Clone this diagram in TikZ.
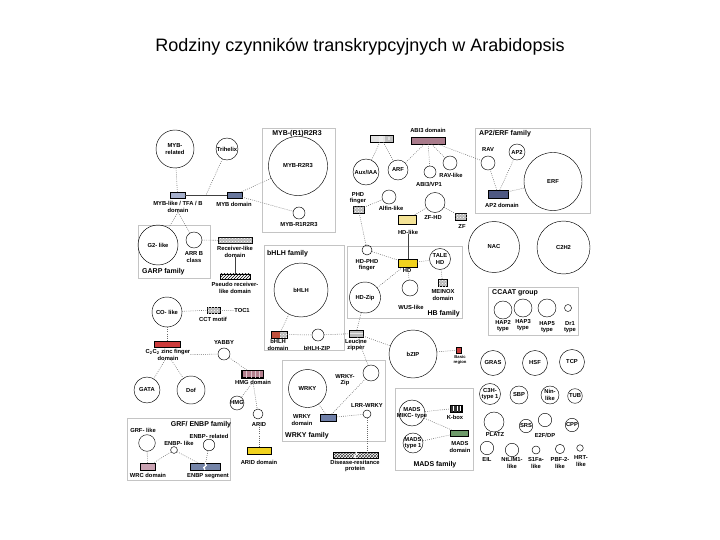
\documentclass[tikz,border=0pt]{standalone}
\usepackage{fontspec}
\setmainfont{Liberation Sans}
\usetikzlibrary{patterns}
\definecolor{boxc}{HTML}{C4C4C4}
\definecolor{dotc}{HTML}{6A6A6A}
\definecolor{mybl}{HTML}{A6B0CC}
\definecolor{mybd}{HTML}{67769C}
\definecolor{mauve}{HTML}{A97B8B}
\definecolor{ap2c}{HTML}{4F5983}
\definecolor{hdl}{HTML}{F4E396}
\definecolor{hdc}{HTML}{F0D21E}
\definecolor{redc}{HTML}{CC3B3B}
\definecolor{bhr}{HTML}{C0503C}
\definecolor{hmgc}{HTML}{B5808F}
\definecolor{wrkyc}{HTML}{6F7FA8}
\definecolor{madsc}{HTML}{6E9A6A}
\definecolor{wrcc}{HTML}{C9A2B2}
\definecolor{enbpc}{HTML}{7484A8}
\newcommand\lbl{\fontsize{5.8}{6.2}\selectfont\bfseries}
\newcommand\famf{\fontsize{7}{8}\selectfont\bfseries}
\newcommand\tinyl{\fontsize{4.2}{4.6}\selectfont\bfseries}
\begin{document}
\begin{tikzpicture}[x=1pt,y=-1pt,
 fam/.style={draw=boxc, line width=0.7pt},
 cir/.style={circle, draw, line width=0.45pt, inner sep=0pt, minimum size={2*#1pt}},
 dom/.style={draw, line width=0.35pt, inner sep=0pt},
 lab/.style={font=\lbl, align=center, inner sep=0pt},
 ttl/.style={font=\famf, inner sep=0pt},
 dl/.style={draw=dotc, line width=0.55pt, dash pattern=on 0.8pt off 1.3pt},
 sl/.style={draw=black!75, line width=0.55pt},
 chk/.style={fill=gray!55, postaction={pattern=crosshatch dots, pattern color=white}},
 bord/.style={draw, line width=0.35pt},
]
\useasboundingbox (0,0) rectangle (720,540);
\node[font=\fontsize{18}{20}\selectfont, inner sep=0pt] (title) at (360,47) {Rodziny czynników transkrypcyjnych w Arabidopsis};

% family boxes
\draw[fam] (262,128) rectangle (335,232);
\draw[fam] (475,128) rectangle (590,213);
\draw[fam] (138,225) rectangle (210,278);
\draw[fam] (264,245) rectangle (344,350);
\draw[fam] (347,246) rectangle (462,318);
\draw[fam] (488,287) rectangle (578,335);
\draw[fam] (282,360) rectangle (385,441);
\draw[fam] (395,388) rectangle (473,470);
\draw[fam] (127,418) rectangle (230,480);

% circles
\node[cir=19] (mybrel) at (175,149) {};
\node[cir=11] (trih) at (227,149) {};
\node[cir=29.5] (r2r3) at (298,166) {};
\node[cir=6] (r1r2r3) at (299,213) {};
\node[cir=13] (auxiaa) at (366,172) {};
\node[cir=10] (arf) at (398,170) {};
\node[cir=6] (abivp) at (430,172) {};
\node[cir=7] (ravlike) at (450,163) {};
\node[cir=7] (rav) at (488,163) {};
\node[cir=8] (ap2) at (517,152) {};
\node[cir=29] (erf) at (553,181.5) {};
\node[cir=7] (alfin) at (389,197) {};
\node[cir=10] (zfhd) at (435,202.5) {};
\node[cir=25.5] (nac) at (494,247) {};
\node[cir=26.5] (c2h2) at (563.5,247.5) {};
\node[cir=20] (g2) at (158,245) {};
\node[cir=8] (arrb) at (194,240) {};
\node[cir=5] (hdphd) at (367,250) {};
\node[cir=10.5] (talehd) at (440,259) {};
\node[cir=15.5] (hdzip) at (365,297.5) {};
\node[cir=8] (wus) at (410,288) {};
\node[cir=27] (bhlh) at (301,290) {};
\node[cir=6] (bhlhzip) at (318,335) {};
\node[cir=24] (bzip) at (413,354) {};
\node[cir=9] (hap2) at (503,310) {};
\node[cir=9] (hap3) at (523,308) {};
\node[cir=9] (hap5) at (547,308) {};
\node[cir=3.5] (dr1) at (568,308) {};
\node[cir=12.5] (gras) at (493,363) {};
\node[cir=12.5] (hsf) at (535,363) {};
\node[cir=12.5] (tcp) at (572,362) {};
\node[cir=15] (co) at (167,312) {};
\node[cir=6] (yabby) at (224,354) {};
\node[cir=13] (gata) at (147,390) {};
\node[cir=14] (dof) at (191,390) {};
\node[cir=7] (hmg) at (237,403) {};
\node[cir=5] (arid) at (258,414) {};
\node[cir=19] (wrky) at (307.5,388.5) {};
\node[cir=8] (wrkyzip) at (371,373) {};
\node[cir=4] (lrr) at (367,414) {};
\node[cir=13] (mikc) at (412,413) {};
\node[cir=10] (mt1) at (413,443) {};
\node[cir=10.5] (c3h) at (490,394) {};
\node[cir=9] (sbp) at (519,395) {};
\node[cir=9] (nin) at (550,395) {};
\node[cir=7.3] (tub) at (575,396) {};
\node[cir=10] (platz) at (494,422) {};
\node[cir=6.7] (srs) at (526,426) {};
\node[cir=6.7] (e2f) at (545,420) {};
\node[cir=6.7] (cpp) at (572,425) {};
\node[cir=6.7] (eil) at (487,448) {};
\node[cir=6.7] (nlim) at (512,450) {};
\node[cir=4] (s1fa) at (536,450) {};
\node[cir=4.7] (pbf) at (560,449) {};
\node[cir=3.3] (hrt) at (580,448) {};
\node[cir=8.3] (grf) at (147,443) {};
\node[cir=3.4] (enbpl) at (174,450) {};
\node[cir=5.8] (enbpr) at (209,445) {};

% texts inside circles
\node[lab] at (mybrel) {MYB-\\related};
\node[lab] at (trih) {Trihelix};
\node[lab] at (r2r3) {MYB-R2R3};
\node[lab] at (auxiaa) {Aux/IAA};
\node[lab] at (arf) {ARF};
\node[lab] at (ap2) {AP2};
\node[lab] at (erf) {ERF};
\node[lab] at (nac) {NAC};
\node[lab] at (c2h2) {C2H2};
\node[lab] at (g2) {G2- like};
\node[lab] at (talehd) {TALE\\HD};
\node[lab] at (hdzip) {HD-Zip};
\node[lab] at (bhlh) {bHLH};
\node[lab] at (bzip) {bZIP};
\node[lab] at (gras) {GRAS};
\node[lab] at (hsf) {HSF};
\node[lab] at (tcp) {TCP};
\node[lab] at (co) {CO- like};
\node[lab] at (gata) {GATA};
\node[lab] at (dof) {Dof};
\node[lab] at (hmg) {HMG};
\node[lab] at (wrky) {WRKY};
\node[lab] at (mikc) {MADS\\MIKC- type};
\node[lab] at (mt1) {MADS\\type 1};
\node[lab] at (c3h) {C3H-\\type 1};
\node[lab] at (sbp) {SBP};
\node[lab] at (nin) {Nin-\\like};
\node[lab] at (tub) {TUB};
\node[lab] at (srs) {SRS};
\node[lab] at (cpp) {CPP};

% domains
\node[dom, fill=mybl, minimum width=15pt, minimum height=6pt] (myblD) at (177.5,195) {};
\node[dom, fill=mybd, minimum width=15pt, minimum height=6pt] (mybD) at (234.5,195) {};
\node[dom, fill=gray!22, minimum width=23pt, minimum height=7pt] (auxD) at (381.5,138.5) {};
\fill[white!85!gray] ([xshift=9pt]auxD.north west) rectangle ([xshift=13pt]auxD.south west);
\fill[gray!50] ([xshift=-8pt]auxD.north east) rectangle (auxD.south east);
\fill[gray!25] ([xshift=-5pt,yshift=-2pt]auxD.north east) rectangle ([xshift=-3pt,yshift=2pt]auxD.south east);
\draw[bord] (auxD.north west) rectangle (auxD.south east);
\node[dom, fill=mauve, minimum width=34pt, minimum height=7pt] (abiD) at (428,140.5) {};
\node[dom, fill=ap2c, minimum width=20.5pt, minimum height=7.5pt] (ap2D) at (498,194) {};
\node[dom, chk, minimum width=11pt, minimum height=7pt] (phdD) at (358.5,209.5) {};
\node[dom, chk, minimum width=11pt, minimum height=7pt] (zfD) at (461,216.5) {};
\node[dom, fill=hdl, minimum width=18pt, minimum height=9pt] (hdlikeD) at (407,219.5) {};
\node[dom, fill=hdc, minimum width=19pt, minimum height=8pt] (hdD) at (407.5,263.3) {};
\node[dom, chk, minimum width=8.5pt, minimum height=7pt] (meinoxD) at (442.5,283) {};
\node[dom, chk, minimum width=34pt, minimum height=6pt] (recD) at (235,240.5) {};
\node[dom, pattern=north east lines, minimum width=30pt, minimum height=5.5pt] (pseudoD) at (235,276.5) {};
\node[dom, chk, minimum width=13pt, minimum height=6.5pt] (cctD) at (213.3,310) {};
\node[dom, fill=redc, minimum width=26pt, minimum height=6pt] (c2c2D) at (167,344) {};
\node[dom, minimum width=16pt, minimum height=7pt] (bhlhD) at (279,334.5) {};
\fill[bhr] (bhlhD.north west) rectangle ([xshift=-7pt]bhlhD.south east);
\fill[chk] ([xshift=-7pt]bhlhD.north east) rectangle (bhlhD.south east);
\draw[bord] (bhlhD.north west) rectangle (bhlhD.south east);
\node[dom, fill=gray!55, minimum width=14pt, minimum height=7pt] (leuD) at (356,333.5) {};
\draw[white!80!gray, line width=1pt] ([yshift=-3.5pt]leuD.north west) -- ([yshift=-3.5pt]leuD.north east);
\draw[bord] (leuD.north west) rectangle (leuD.south east);
\node[dom, fill=redc, minimum width=5pt, minimum height=6.5pt] (basicD) at (459,350) {};
\node[dom, fill=hmgc, minimum width=21.5pt, minimum height=7pt] (hmgD) at (252.5,374) {};
\foreach \i in {5,9.5,14,18} \draw[white!55!hmgc, line width=0.8pt] ([xshift=\i pt]hmgD.north west) -- ([xshift=\i pt]hmgD.south west);
\draw[bord] (hmgD.north west) rectangle (hmgD.south east);
\node[dom, fill=hdc, minimum width=24pt, minimum height=7pt] (aridD) at (259,451) {};
\node[dom, fill=wrkyc, minimum width=16.7pt, minimum height=6.7pt] (wrkyD) at (328.3,417.7) {};
\node[dom, pattern=crosshatch, pattern color=black!75, minimum width=45pt, minimum height=6pt] (disD) at (355.8,455.3) {};
\draw[white, line width=1.2pt] (disD.north) -- ++(1.5,2) -- ++(-3,2) -- ++(1.5,2);
\node[dom, fill=white, minimum width=11.7pt, minimum height=6.7pt] (kboxD) at (455.8,408.3) {};
\foreach \i in {1.4,2.8,...,10.5} \draw[black!80, line width=0.6pt] ([xshift=\i pt]kboxD.north west) -- ([xshift=\i pt]kboxD.south west);
\draw[bord] (kboxD.north west) rectangle (kboxD.south east);
\node[dom, fill=madsc, minimum width=18pt, minimum height=6pt] (madsD) at (459,433) {};
\node[dom, fill=wrcc, minimum width=15pt, minimum height=6.7pt] (wrcD) at (147.5,466.7) {};
\node[dom, fill=enbpc, minimum width=30pt, minimum height=6.7pt] (enbpD) at (205,466.7) {};
\draw[white, line width=1.3pt] (enbpD.north) -- ++(1.2,2.2) -- ++(-2.4,2.2) -- ++(1.2,2.3);

% labels
\node[lab] (myblL) at (178,207) {MYB-like / TFA / B\\domain};
\node[lab] (mybL) at (234,204) {MYB domain};
\node[ttl] at (297,134) {MYB-(R1)R2R3};
\node[lab] at (299,225) {MYB-R1R2R3};
\node[lab] at (428,130) {ABI3 domain};
\node[lab] at (429,184) {ABI3/VP1};
\node[lab] at (451,175) {RAV-like};
\node[lab] at (488,150) {RAV};
\node[ttl, anchor=west] at (479,134) {AP2/ERF family};
\node[lab] at (502,205) {AP2 domain};
\node[lab] at (358,198) {PHD\\finger};
\node[lab] at (391,208) {Alfin-like};
\node[lab] at (433,218) {ZF-HD};
\node[lab] at (462,227) {ZF};
\node[lab] (hdlikeL) at (408,232) {HD-like};
\node[lab] at (367,265) {HD-PHD\\finger};
\node[lab] at (407,271) {HD};
\node[lab] at (443,295) {MEINOX\\domain};
\node[lab] at (411,307) {WUS-like};
\node[ttl, anchor=east] at (460,314) {HB family};
\node[ttl, anchor=west] at (142,272) {GARP family};
\node[lab] at (194,257) {ARR B\\class};
\node[lab] (recL) at (235,252) {Receiver-like\\domain};
\node[lab] at (235,288) {Pseudo receiver-\\like domain};
\node[lab] at (213,319) {CCT motif};
\node[lab] (tocL) at (242,311) {TOC1};
\node[lab] (c2c2L) at (168,355) {C\textsubscript{2}C\textsubscript{2} zinc finger\\domain};
\node[lab] at (224,343) {YABBY};
\node[ttl, anchor=west] at (267,254) {bHLH family};
\node[lab] at (278,345) {bHLH\\domain};
\node[lab] at (317,348) {bHLH-ZIP};
\node[lab] at (356,345) {Leucine\\zipper};
\node[font=\tinyl, align=center, inner sep=0pt] at (460,360) {Basic\\region};
\node[ttl, anchor=west] at (492,293) {CCAAT group};
\node[lab] at (503,326) {HAP2\\type};
\node[lab] at (523,325) {HAP3\\type};
\node[lab] at (547,327) {HAP5\\type};
\node[lab] at (570,327) {Dr1\\type};
\node[lab] (hmgL) at (253,382) {HMG domain};
\node[lab] (aridL) at (259,425) {ARID};
\node[lab] at (259,462) {ARID domain};
\node[lab] at (345,380) {WRKY-\\Zip};
\node[lab] at (367,406) {LRR-WRKY};
\node[lab] at (302,420) {WRKY\\domain};
\node[ttl, anchor=west] at (285,436) {WRKY family};
\node[lab] at (355,466) {Disease-resitance\\protein};
\node[lab] at (455,417) {K-box};
\node[lab] at (460,447) {MADS\\domain};
\node[ttl] at (435,465) {MADS family};
\node[ttl] at (201,425) {GRF/ ENBP family};
\node[lab] at (143,430) {GRF- like};
\node[lab] at (179,443) {ENBP- like};
\node[lab] at (209,436) {ENBP- related};
\node[lab] at (148,475) {WRC domain};
\node[lab] at (208,476) {ENBP segment};
\node[lab] at (495,435) {PLATZ};
\node[lab] at (545,435) {E2F/DP};
\node[lab] at (487,460) {EIL};
\node[lab] at (512,463) {NtLIM1-\\like};
\node[lab] at (536,463) {S1Fa-\\like};
\node[lab] at (560,463) {PBF-2-\\like};
\node[lab] at (581,461) {HRT-\\like};

% connectors
\coordinate (mybmid) at (206,195);
\draw[dl] (mybrel) -- (myblD);
\draw[sl] (myblD) -- (mybD);
\draw[dl] (trih) -- (mybmid);
\draw[dl] (mybD) -- (r2r3);
\draw[dl] (mybD) -- (r1r2r3);
\draw[dl] (myblL.south) -- (g2);
\draw[dl] (myblL.south) -- (arrb);
\draw[dl] (arrb) -- (recD);
\draw[sl] (recL.south) -- (pseudoD.north);
\draw[dl] (co) -- (cctD);
\draw[dl] (cctD) -- (tocL);
\draw[dl] (co) -- (c2c2D);
\draw[dl] (c2c2L) -- (yabby);
\draw[dl] (c2c2L) -- (gata);
\draw[dl] (c2c2L) -- (dof);
\draw[dl] (yabby) -- (hmgD);
\draw[dl] (hmgL) -- (hmg);
\draw[dl] (hmgL) -- (arid);
\draw[dl] (aridL) -- (aridD);
\draw[dl] (bhlh) -- (bhlhD);
\draw[dl] (bhlhD) -- (bhlhzip);
\draw[dl] (bhlhzip) -- (leuD);
\draw[dl] (hdzip) -- (leuD);
\draw[dl] (leuD) -- (bzip);
\draw[dl] (leuD) -- (wrkyzip);
\draw[dl] (bzip) -- (basicD);
\draw[dl] (wrky) -- (wrkyD);
\draw[dl] (wrkyD) -- (wrkyzip);
\draw[dl] (wrkyD) -- (lrr);
\draw[dl] (lrr) -- (lrr |- disD.north);
\draw[dl] (mikc) -- (kboxD);
\draw[dl] (mikc) -- (madsD);
\draw[dl] (mt1) -- (madsD);
\draw[dl] (grf) -- (wrcD);
\draw[dl] (enbpl) -- (wrcD);
\draw[dl] (enbpl) -- (enbpD);
\draw[dl] (enbpr) -- (enbpD);
\draw[dl] (auxD) -- (auxiaa);
\draw[dl] (auxD) -- (arf);
\draw[dl] (abiD) -- (arf);
\draw[dl] (abiD) -- (abivp);
\draw[dl] (abiD) -- (ravlike);
\draw[dl] (abiD) -- (rav);
\draw[dl] (ap2D) -- (rav);
\draw[dl] (ap2D) -- (ap2);
\draw[dl] (ap2D) -- (erf);
\draw[dl] (phdD) -- (alfin);
\draw[dl] (phdD) -- (hdphd);
\draw[dl] (zfhd) -- (zfD);
\draw[dl] (zfhd) -- (hdlikeD);
\draw[sl] (hdlikeL.south) -- (hdlikeL.south |- hdD.north);
\draw[dl] (hdphd) -- (hdD);
\draw[dl] (hdzip) -- (hdD);
\draw[dl] (wus) -- (hdD);
\draw[dl] (hdD) -- (talehd);
\draw[dl] (talehd) -- (meinoxD);
\end{tikzpicture}
\end{document}
